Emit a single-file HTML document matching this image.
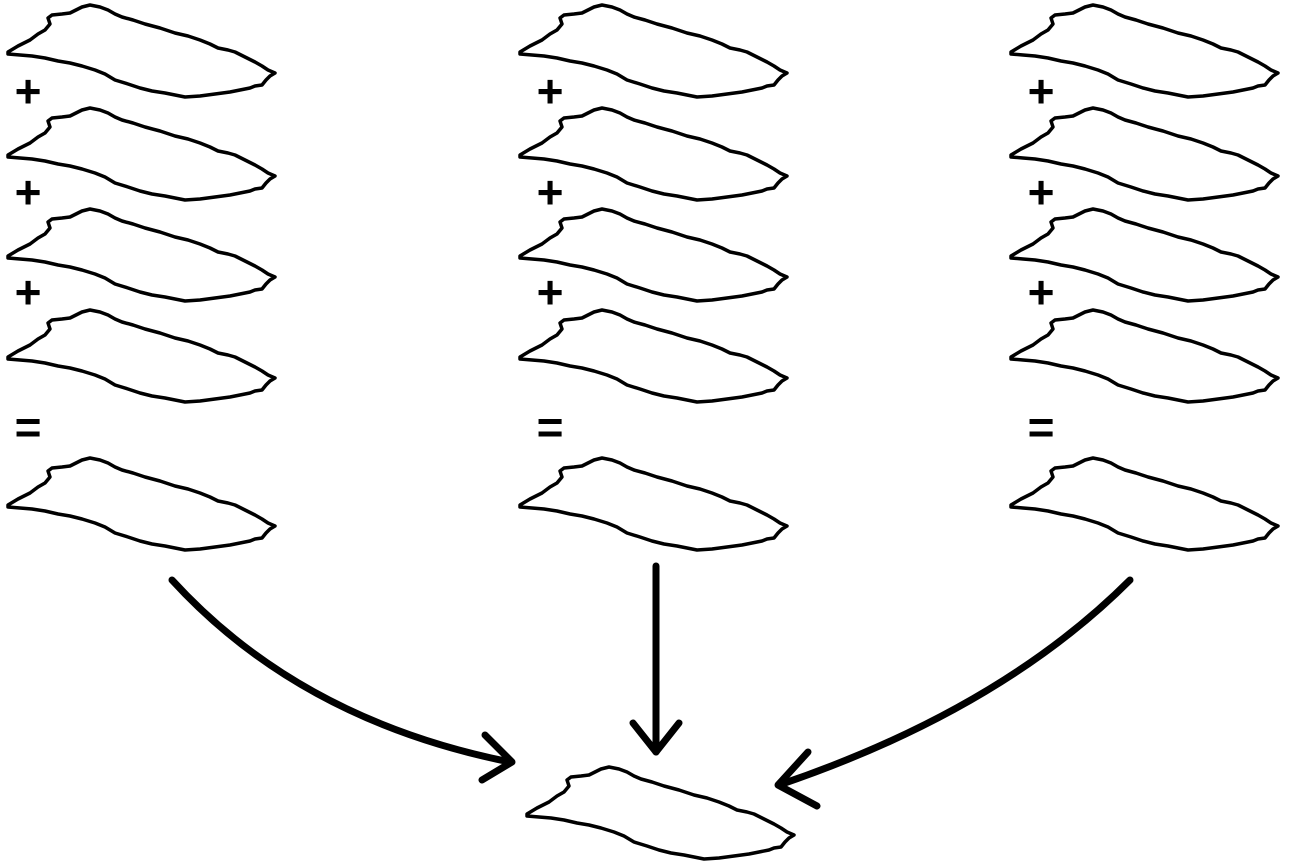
<!DOCTYPE html>
<html><head><meta charset="utf-8"><style>
html,body{margin:0;padding:0;background:#fff;}
svg{display:block;}
text{font-family:"Liberation Sans",sans-serif;font-weight:bold;}
</style></head><body>
<svg width="1295" height="862" viewBox="0 0 1295 862">
<defs>
<path id="leaf" fill="none" stroke="#000" stroke-width="3.5" stroke-linejoin="round" d="M8,52 L18,46 L30,40 L38,34 L45,30 L50,24 L48,18 L52,15 L62,14 L70,13 L76,10 L82,7 L90,5 L100,7 L108,10 L115,14 L122,17 L133,20 L145,24 L160,28 L175,33 L188,36 L200,40 L210,44 L218,48 L228,50 L235,52 L245,57 L255,62 L262,66 L268,70 L275,73 L270,76 L266,80 L262,85 L255,86 L250,88 L240,90 L230,92 L215,94 L200,96 L185,97 L175,95 L165,93 L152,91 L140,88 L128,84 L115,80 L105,74 L95,70 L82,66 L70,63 L58,61 L45,58 L32,56 L20,55 L8,54 Z"/>
</defs>
<g transform="translate(0,0)">
<use href="#leaf" y="0"/><use href="#leaf" y="103"/><use href="#leaf" y="204"/><use href="#leaf" y="305"/><use href="#leaf" y="453"/>
<text x="28" y="107" font-size="46" text-anchor="middle">+</text>
<text x="28" y="208" font-size="46" text-anchor="middle">+</text>
<text x="28" y="308" font-size="46" text-anchor="middle">+</text>
<text x="28" y="443" font-size="46" text-anchor="middle">=</text>
</g>
<g transform="translate(512,0)">
<use href="#leaf" y="0"/><use href="#leaf" y="103"/><use href="#leaf" y="204"/><use href="#leaf" y="305"/><use href="#leaf" y="453"/>
<text x="38" y="107" font-size="46" text-anchor="middle">+</text>
<text x="38" y="208" font-size="46" text-anchor="middle">+</text>
<text x="38" y="308" font-size="46" text-anchor="middle">+</text>
<text x="38" y="443" font-size="46" text-anchor="middle">=</text>
</g>
<g transform="translate(1003,0)">
<use href="#leaf" y="0"/><use href="#leaf" y="103"/><use href="#leaf" y="204"/><use href="#leaf" y="305"/><use href="#leaf" y="453"/>
<text x="38" y="107" font-size="46" text-anchor="middle">+</text>
<text x="38" y="208" font-size="46" text-anchor="middle">+</text>
<text x="38" y="308" font-size="46" text-anchor="middle">+</text>
<text x="38" y="443" font-size="46" text-anchor="middle">=</text>
</g>
<g transform="translate(519,762)"><use href="#leaf"/></g>
<g fill="none" stroke="#000" stroke-width="7" stroke-linecap="round" stroke-linejoin="round">
<g>
<path d="M172,580 Q300,720 510,762"/><path d="M485,735 L512,762 L482,780"/>
</g>
<g>
<path d="M656,566 L656,752"/><path d="M633,723 L656,752 L679,723"/>
</g>
<g>
<path d="M1130,580 Q1000,710 779,785"/><path d="M808,752 L778,785 L817,806"/>
</g>
</g>
</svg>
</body></html>
